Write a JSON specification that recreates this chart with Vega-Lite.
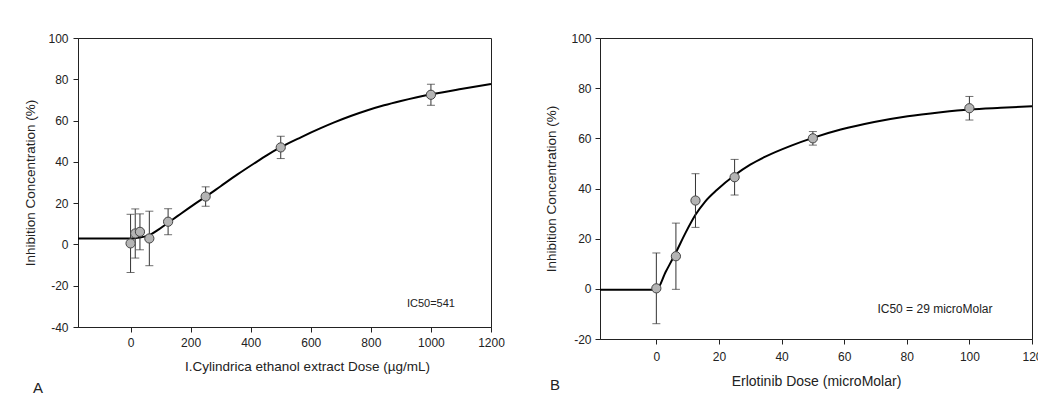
{
  "$schema": "https://vega.github.io/schema/vega-lite/v6.json",
  "background": "white",
  "padding": {"left": 23, "top": 31, "right": 0, "bottom": 0},
  "spacing": 39,
  "config": {
    "view": {"stroke": "#222", "strokeWidth": 1},
    "axis": {"domainColor": "#222", "tickColor": "#222", "tickSize": 5, "grid": false,
      "labelFont": "Liberation Sans", "labelFontSize": 12, "labelColor": "#222", "labelFlush": false,
      "labelExpr": "toString(datum.value)",
      "titleFont": "Liberation Sans", "titleFontSize": 13.5, "titleFontWeight": "normal", "titleColor": "#222"},
    "title": {"font": "Liberation Sans", "fontSize": 15, "fontWeight": "normal", "color": "#222"}
  },
  "datasets": {
    "ptsA": [
      {"dose": 0, "inh": 0.5, "err": 14.1},
      {"dose": 15.6, "inh": 5.3, "err": 11.9},
      {"dose": 31.25, "inh": 6.1, "err": 8.7},
      {"dose": 62.5, "inh": 2.9, "err": 13.2},
      {"dose": 125, "inh": 11, "err": 6.3},
      {"dose": 250, "inh": 23.2, "err": 4.7},
      {"dose": 500, "inh": 47, "err": 5.4},
      {"dose": 1000, "inh": 72.5, "err": 5.1}
    ],
    "curveA": [
      {"dose": -175, "inh": 2.9}, {"dose": 0, "inh": 2.9}, {"dose": 15, "inh": 3.0},
      {"dose": 31, "inh": 3.3}, {"dose": 62.5, "inh": 4.5}, {"dose": 94, "inh": 7.3},
      {"dose": 125, "inh": 10.5}, {"dose": 156, "inh": 13.7}, {"dose": 189, "inh": 17.1},
      {"dose": 219, "inh": 20.1}, {"dose": 250, "inh": 23.1}, {"dose": 300, "inh": 28.2},
      {"dose": 356, "inh": 33.9}, {"dose": 411, "inh": 39.2}, {"dose": 456, "inh": 43.4},
      {"dose": 500, "inh": 47.1}, {"dose": 567, "inh": 51.9}, {"dose": 633, "inh": 56.3},
      {"dose": 678, "inh": 59.1}, {"dose": 733, "inh": 62.2}, {"dose": 789, "inh": 65.0},
      {"dose": 844, "inh": 67.4}, {"dose": 900, "inh": 69.5}, {"dose": 950, "inh": 71.2},
      {"dose": 1000, "inh": 72.7}, {"dose": 1100, "inh": 75.3}, {"dose": 1200, "inh": 77.7}
    ],
    "ptsB": [
      {"dose": 0, "inh": 0.2, "err": 14.1},
      {"dose": 6.25, "inh": 13, "err": 13.2},
      {"dose": 12.5, "inh": 35.2, "err": 10.7},
      {"dose": 25, "inh": 44.5, "err": 7.1},
      {"dose": 50, "inh": 60, "err": 2.7},
      {"dose": 100, "inh": 72, "err": 4.7}
    ],
    "curveB": [
      {"dose": -18, "inh": -0.4}, {"dose": 0, "inh": -0.4}, {"dose": 3, "inh": 6.8},
      {"dose": 6.25, "inh": 14.5}, {"dose": 9.4, "inh": 22.5}, {"dose": 12.5, "inh": 29.5},
      {"dose": 15.6, "inh": 34.8}, {"dose": 19.4, "inh": 39.5}, {"dose": 25, "inh": 45.3},
      {"dose": 30, "inh": 49.5}, {"dose": 35, "inh": 52.8}, {"dose": 42.9, "inh": 57.0},
      {"dose": 50, "inh": 60.2}, {"dose": 58.9, "inh": 63.5}, {"dose": 69.6, "inh": 66.5},
      {"dose": 80.3, "inh": 68.8}, {"dose": 90.9, "inh": 70.4}, {"dose": 100, "inh": 71.5},
      {"dose": 110, "inh": 72.2}, {"dose": 120, "inh": 72.8}
    ]
  },
  "hconcat": [
    {
      "width": 413,
      "height": 289,
      "title": {"text": "A", "orient": "bottom", "anchor": "start", "frame": "bounds", "offset": 8, "dx": 9},
      "layer": [
        {"data": {"name": "curveA"}, "mark": {"type": "line", "color": "black", "strokeWidth": 2, "interpolate": "monotone"},
          "encoding": {
            "x": {"field": "dose", "type": "quantitative",
              "scale": {"domain": [-175, 1200], "nice": false, "zero": false},
              "axis": {"values": [0, 200, 400, 600, 800, 1000, 1200], "labelPadding": 5, "titlePadding": 11, "titleX": 229,
                "title": "I.Cylindrica ethanol extract Dose (µg/mL)"}},
            "y": {"field": "inh", "type": "quantitative",
              "scale": {"domain": [-40, 100], "nice": false, "zero": false},
              "axis": {"values": [-40, -20, 0, 20, 40, 60, 80, 100], "labelPadding": 5, "titlePadding": 10,
                "title": "Inhibition Concentration (%)"}}
          }},
        {"data": {"name": "ptsA"}, "mark": {"type": "errorbar", "color": "#333", "thickness": 1, "ticks": {"size": 8}},
          "encoding": {
            "x": {"field": "dose", "type": "quantitative", "title": "I.Cylindrica ethanol extract Dose (µg/mL)"},
            "y": {"field": "inh", "type": "quantitative", "title": "Inhibition Concentration (%)"},
            "yError": {"field": "err"}}},
        {"data": {"name": "ptsA"}, "mark": {"type": "point", "shape": "circle", "filled": true, "size": 85, "fill": "#b4b4b4", "stroke": "#444", "strokeWidth": 1, "opacity": 1},
          "encoding": {
            "x": {"field": "dose", "type": "quantitative", "title": "I.Cylindrica ethanol extract Dose (µg/mL)"},
            "y": {"field": "inh", "type": "quantitative", "title": "Inhibition Concentration (%)"}}},
        {"data": {"values": [{"note": "IC50=541"}]}, "mark": {"type": "text", "font": "Liberation Sans", "fontSize": 11, "fill": "#222"},
          "encoding": {"x": {"datum": 1000, "type": "quantitative"}, "y": {"datum": -29, "type": "quantitative"}, "text": {"field": "note"}}}
      ]
    },
    {
      "width": 432,
      "height": 301,
      "title": {"text": "B", "orient": "bottom", "anchor": "start", "frame": "bounds", "offset": 0, "dx": 5, "dy": -10},
      "layer": [
        {"data": {"name": "curveB"}, "mark": {"type": "line", "color": "black", "strokeWidth": 2, "interpolate": "monotone"},
          "encoding": {
            "x": {"field": "dose", "type": "quantitative",
              "scale": {"domain": [-18, 120], "nice": false, "zero": false},
              "axis": {"values": [0, 20, 40, 60, 80, 100, 120], "labelPadding": 7, "titlePadding": 12,
                "title": "Erlotinib Dose (microMolar)", "titleFontSize": 14}},
            "y": {"field": "inh", "type": "quantitative",
              "scale": {"domain": [-20, 100], "nice": false, "zero": false},
              "axis": {"values": [-20, 0, 20, 40, 60, 80, 100], "labelPadding": 4, "titlePadding": 12,
                "title": "Inhibition Concentration (%)"}}
          }},
        {"data": {"name": "ptsB"}, "mark": {"type": "errorbar", "color": "#333", "thickness": 1, "ticks": {"size": 8}},
          "encoding": {
            "x": {"field": "dose", "type": "quantitative", "title": "Erlotinib Dose (microMolar)"},
            "y": {"field": "inh", "type": "quantitative", "title": "Inhibition Concentration (%)"},
            "yError": {"field": "err"}}},
        {"data": {"name": "ptsB"}, "mark": {"type": "point", "shape": "circle", "filled": true, "size": 85, "fill": "#b4b4b4", "stroke": "#444", "strokeWidth": 1, "opacity": 1},
          "encoding": {
            "x": {"field": "dose", "type": "quantitative", "title": "Erlotinib Dose (microMolar)"},
            "y": {"field": "inh", "type": "quantitative", "title": "Inhibition Concentration (%)"}}},
        {"data": {"values": [{"note": "IC50 = 29 microMolar"}]}, "mark": {"type": "text", "font": "Liberation Sans", "fontSize": 12, "fill": "#222"},
          "encoding": {"x": {"datum": 89, "type": "quantitative"}, "y": {"datum": -8, "type": "quantitative"}, "text": {"field": "note"}}}
      ]
    }
  ]
}
